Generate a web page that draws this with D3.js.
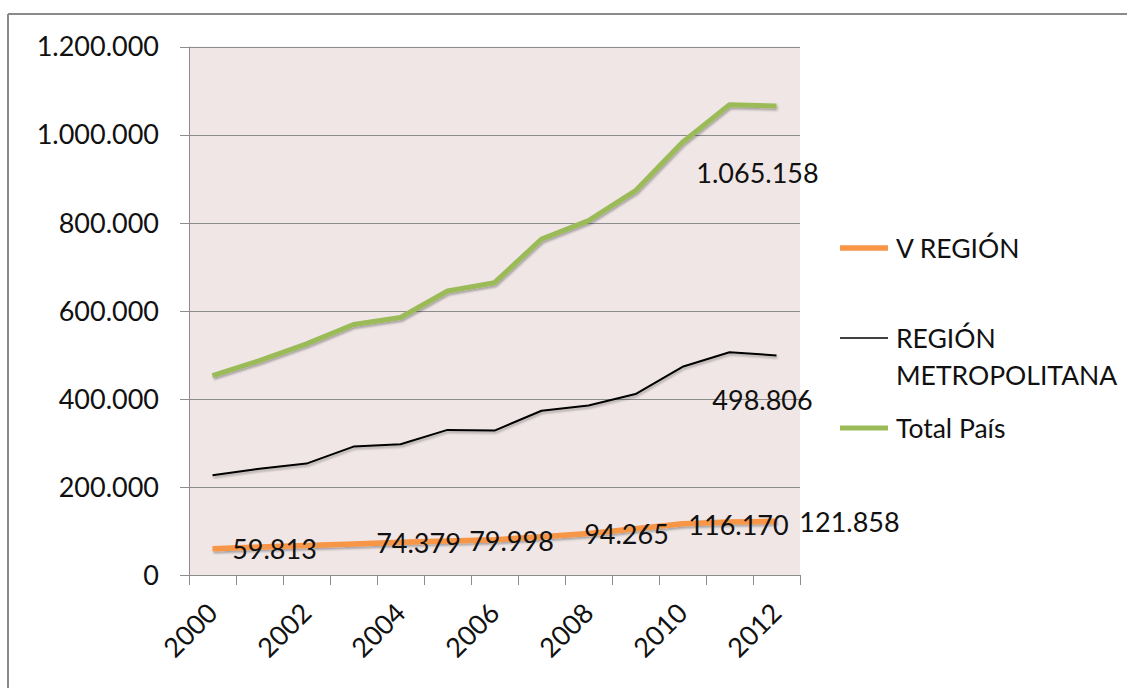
<!DOCTYPE html>
<html>
<head>
<meta charset="utf-8">
<script src="https://cdn.jsdelivr.net/npm/d3@7"></script>
<style>
  html, body { margin: 0; padding: 0; background: #ffffff; }
  svg { display: block; }
  text { font-family: Lato, "Open Sans", sans-serif; fill: #111; }
</style>
</head>
<body>
<svg id="chart" width="1127" height="688"></svg>
<script>
// ---- data ----
const years = [2000, 2001, 2002, 2003, 2004, 2005, 2006, 2007, 2008, 2009, 2010, 2011, 2012];
const xTickYears = [2000, 2002, 2004, 2006, 2008, 2010, 2012];
const yTicks = [0, 200000, 400000, 600000, 800000, 1000000, 1200000];
const seriesNames = ["V REGIÓN", "REGIÓN METROPOLITANA", "Total País"];
const vRegion = [59813, 63500, 67000, 70500, 74379, 77000, 79998, 87000, 94265, 105000, 116170, 120500, 121858];
const regionMetropolitana = [226600, 241600, 253000, 291600, 297000, 329600, 328000, 373000, 385000, 411000, 473000, 506000, 498806];
const totalPais = [453000, 487000, 525000, 569000, 585000, 645000, 664000, 763000, 805000, 873000, 983000, 1068000, 1065158];
// which points carry a data label
const vRegionLabelYears = [2000, 2004, 2006, 2008, 2010, 2012];
const rmLabelYears = [2012];
const totalLabelYears = [2012];

// ---- layout / style ----
const plotLeft = 189, plotRight = 800, plotTop = 46.7, plotBottom = 575;
const fontSize = 27;
const colors = ["#F79646", "#000000", "#9BBB59"];
const widths = [5.5, 2, 5];
// label offsets (relative to point), layout only
const vLabelDx = [62, 18, 17, 38, 56, 73];
const rmLabelOffset = [-14, 45];
const totalLabelOffset = [-19, 67];

const locale = d3.formatLocale({ decimal: ",", thousands: ".", grouping: [3], currency: ["$", ""] });
const fmt = locale.format(",d");

const svg = d3.select("#chart");

const defs = svg.append("defs");
const f = defs.append("filter").attr("id", "shadow").attr("x", "-5%").attr("y", "-20%").attr("width", "110%").attr("height", "140%");
f.append("feDropShadow").attr("dx", 1).attr("dy", 2).attr("stdDeviation", 1.3).attr("flood-color", "#000").attr("flood-opacity", 0.3);

// outer frame (cut off at right and bottom)
svg.append("line").attr("x1", 8).attr("x2", 1127).attr("y1", 14).attr("y2", 14).attr("stroke", "#8a8a8a").attr("stroke-width", 2);
svg.append("line").attr("x1", 8).attr("x2", 8).attr("y1", 14).attr("y2", 688).attr("stroke", "#8a8a8a").attr("stroke-width", 2);

const x = d3.scaleBand().domain(years).range([plotLeft, plotRight]).padding(0);
const y = d3.scaleLinear().domain([0, 1200000]).range([plotBottom, plotTop]);
const cx = yr => x(yr) + x.bandwidth() / 2;

// plot area fill
svg.append("rect").attr("x", plotLeft).attr("y", y(1200000)).attr("width", plotRight - plotLeft).attr("height", y(0) - y(1200000)).attr("fill", "#F0E6E6");

// gridlines + y labels
const gy = svg.append("g");
gy.selectAll("line").data(yTicks).join("line")
  .attr("x1", plotLeft - 9).attr("x2", plotRight)
  .attr("y1", d => Math.round(y(d)) + 0.5).attr("y2", d => Math.round(y(d)) + 0.5)
  .attr("stroke", "#8c8c8c").attr("stroke-width", 1);
gy.selectAll("text").data(yTicks).join("text")
  .attr("x", 159).attr("y", d => y(d)).attr("dy", "0.36em")
  .attr("text-anchor", "end").attr("font-size", fontSize)
  .text(d => fmt(d));

// y axis line
svg.append("line").attr("x1", plotLeft + 0.5).attr("x2", plotLeft + 0.5).attr("y1", y(1200000)).attr("y2", y(0))
  .attr("stroke", "#8c8c8c").attr("stroke-width", 1);

// x axis with boundary ticks
const boundaries = d3.range(years.length + 1).map(i => plotLeft + i * x.step());
const gx = svg.append("g");
gx.append("line").attr("x1", plotLeft).attr("x2", plotRight).attr("y1", Math.round(y(0)) + 0.5).attr("y2", Math.round(y(0)) + 0.5)
  .attr("stroke", "#8c8c8c").attr("stroke-width", 1);
gx.selectAll("line.tick").data(boundaries).join("line").attr("class", "tick")
  .attr("x1", d => Math.round(d) + 0.5).attr("x2", d => Math.round(d) + 0.5)
  .attr("y1", y(0)).attr("y2", y(0) + 10)
  .attr("stroke", "#8c8c8c").attr("stroke-width", 1);
gx.selectAll("text").data(xTickYears).join("text")
  .attr("transform", d => `translate(${cx(d)},${608}) rotate(-45)`)
  .attr("text-anchor", "end").attr("dy", "0.36em").attr("font-size", fontSize)
  .text(d => d);

// lines
const allSeries = [vRegion, regionMetropolitana, totalPais];
const line = d3.line().x((d, i) => cx(years[i])).y(d => y(d));
const drawOrder = [2, 1, 0];
drawOrder.forEach(s => {
  svg.append("path").datum(allSeries[s]).attr("d", line)
    .attr("fill", "none").attr("stroke", colors[s]).attr("stroke-width", widths[s])
    .attr("stroke-linejoin", "round").attr("stroke-linecap", "butt")
    .attr("filter", "url(#shadow)");
});

// data labels
const gl = svg.append("g").attr("font-size", fontSize);
vRegionLabelYears.forEach((yr, k) => {
  const i = years.indexOf(yr);
  gl.append("text").attr("x", cx(yr) + vLabelDx[k]).attr("y", y(vRegion[i]) + 1).attr("dy", "0.36em")
    .attr("text-anchor", "middle").text(fmt(vRegion[i]));
});
rmLabelYears.forEach(yr => {
  const i = years.indexOf(yr);
  gl.append("text").attr("x", cx(yr) + rmLabelOffset[0]).attr("y", y(regionMetropolitana[i]) + rmLabelOffset[1]).attr("dy", "0.36em")
    .attr("text-anchor", "middle").text(fmt(regionMetropolitana[i]));
});
totalLabelYears.forEach(yr => {
  const i = years.indexOf(yr);
  gl.append("text").attr("x", cx(yr) + totalLabelOffset[0]).attr("y", y(totalPais[i]) + totalLabelOffset[1]).attr("dy", "0.36em")
    .attr("text-anchor", "middle").text(fmt(totalPais[i]));
});

// legend
const legendY = [248, 338, 428];
const lg = svg.append("g").attr("font-size", 26.5);
seriesNames.forEach((name, s) => {
  lg.append("line").attr("x1", 840).attr("x2", 888).attr("y1", legendY[s]).attr("y2", legendY[s])
    .attr("stroke", colors[s]).attr("stroke-width", s === 1 ? 1.5 : widths[s]);
  const t = lg.append("text").attr("x", 896).attr("y", legendY[s]).attr("dy", "0.36em");
  if (s === 1) {
    const parts = name.split(" ");
    t.append("tspan").attr("x", 896).text(parts[0]);
    t.append("tspan").attr("x", 896).attr("dy", "1.4em").text(parts[1]);
  } else {
    t.text(name);
  }
});
</script>
</body>
</html>
